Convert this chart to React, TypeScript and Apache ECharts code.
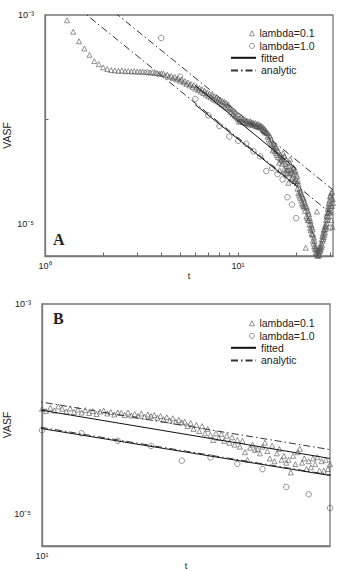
import React, { useEffect, useRef } from 'react';
import * as echarts from 'echarts';

const FONT = '"Liberation Sans", Arial, Helvetica, sans-serif';
const SERIF = '"Liberation Serif", "Times New Roman", serif';

// lambda = 0.1 : sampled every 0.1 starting at t = 1.3 ; VASF values in units of 1e-5
const T0 = 1.3;
const DT = 0.1;
const lam01Early = [89.1, 69.2, 56.2, 47.9, 41.7, 36.3, 33.9, 31.6];
const lam01Plateau = [
  30.5, 29.8, 29.6, 29.3, 29.5, 29.0, 29.2, 28.9, 29.1, 28.8,
  28.7, 28.9, 28.5, 28.6, 28.2, 28.4, 27.9, 28.0, 27.5, 27.6,
];
const lam01Mid = [
  27.6, 26.5, 26.9, 25.7, 26.2, 25.0, 25.6, 24.3, 24.9, 23.6,
  24.2, 22.8, 23.4, 22.0, 22.7, 21.3, 21.9, 20.6, 21.4, 19.8,
  20.7, 19.3, 20.0, 18.6, 19.5, 18.0, 18.9, 17.4, 18.2, 16.9,
  17.8, 16.4, 17.3, 15.9, 16.8, 15.5, 16.3, 15.0, 15.9, 14.6,
  15.5, 14.1, 15.1, 13.7, 14.8, 13.3, 14.4, 13.0, 14.0, 12.6,
  13.1, 11.9, 12.6, 11.3, 12.2, 10.9, 11.8, 10.5, 11.3, 10.1,
];
const lam01Late = [
  9.6, 10.3, 9.7, 10.6, 10.1, 9.5, 10.2, 9.4, 9.9, 9.3,
  9.8, 9.2, 9.6, 9.0, 9.5, 9.7, 9.1, 9.4, 8.9, 9.3,
  9.2, 8.8, 9.3, 8.7, 9.0, 8.6, 9.1, 8.5, 8.9, 8.6,
  8.8, 8.3, 8.6, 8.0, 8.4, 7.8, 8.2, 7.6, 7.9, 7.5,
  7.6, 6.9, 7.4, 6.5, 7.1, 6.2, 6.9, 5.9, 6.5, 5.7,
  5.1, 5.9, 5.3, 5.8, 5.0, 5.6, 4.8, 5.4, 4.6, 5.1,
  4.4, 5.0, 3.9, 3.3, 4.3, 4.6, 4.1, 4.2, 3.8, 4.4,
  4.8, 4.0, 3.4, 4.5, 3.2, 3.8, 4.2, 3.3, 3.6, 3.1,
  3.3, 2.5, 3.6, 3.0, 3.9, 4.2, 3.1, 3.4, 2.7, 3.2,
  2.8, 3.4, 3.0, 3.5, 2.6, 3.2, 2.6, 3.3, 2.7, 3.0,
];
const lam01Tail = [
  2.5, 2.9, 2.2, 2.6, 2.0, 2.4, 1.9, 2.2, 1.8, 2.05,
  2.1, 1.7, 1.95, 1.6, 1.85, 1.55, 1.8, 1.5, 1.75, 1.45,
  1.65, 1.35, 1.55, 0.6, 1.5, 1.2, 1.45, 1.15, 1.35, 1.1,
  1.3, 1.1, 1.25, 1.0, 1.15, 0.92, 1.08, 0.88, 1.0, 0.82,
  0.95, 0.8, 0.9, 0.7, 0.8, 0.66, 0.75, 0.62, 0.7, 0.58,
  0.6, 0.54, 0.62, 0.53, 0.58, 1.33, 0.51, 0.56, 0.5, 0.55,
  0.53, 0.58, 0.51, 0.55, 0.6, 0.56, 0.62, 0.58, 0.66, 0.61,
  0.72, 0.64, 0.78, 0.7, 0.82, 0.73, 0.88, 0.76, 0.9, 0.8,
  0.95, 0.84, 1.0, 0.9, 1.1, 0.96, 1.2, 1.02, 1.28, 1.12,
  1.4, 1.2, 1.5, 1.3, 1.6, 1.35, 1.7, 1.45, 1.85, 1.55,
  1.9, 1.3, 2.0, 1.1, 1.8, 1.5, 2.05, 0.95, 1.75, 1.6,
];

// lambda = 1.0 : integer times ; VASF in units of 1e-5
const lam10T = [4, 5, 6, 7, 8, 9, 10, 11, 12, 13, 14, 15, 16, 17, 18, 19, 20, 29, 30];
const lam10V = [60.3, 25.7, 15.8, 11.0, 8.7, 6.9, 6.3, 5.9, 5.0, 4.47, 3.24, 3.47, 3.02, 2.69, 1.82, 1.55, 1.15, 1.17, 0.93];

// straight lines in log-log (end points)
const fitted01 = [[6, 2.12e-4], [20, 3.4e-5]];
const fitted10 = [[6, 1.39e-4], [20, 2.34e-5]];
const analytic01 = [[2, 1.3e-3], [31, 2.14e-5]];
const analytic10 = [[1.5, 1.15e-3], [31, 1.23e-5]];

const xTicksA = [2, 3, 4, 5, 6, 7, 8, 9, 10, 20, 30];
const xLabelExps = [0, 1];
const yTicks = [1e-4];
const yLabelExps = [-3, -5];

const SCALE = 1e-5;
const SUP: Record<string, string> = { '-': '⁻', '0': '⁰', '1': '¹', '2': '²', '3': '³', '4': '⁴', '5': '⁵', '6': '⁶', '7': '⁷', '8': '⁸', '9': '⁹' };

export default function App() {
  const ref = useRef<HTMLDivElement>(null);
  useEffect(() => {
    if (!ref.current) return;
    const chart = echarts.init(ref.current, null, { renderer: 'svg' });

    const lam01 = [...lam01Early, ...lam01Plateau, ...lam01Mid, ...lam01Late, ...lam01Tail];
    const lam01Data = lam01.map((v, i) => [Math.round((T0 + i * DT) * 10) / 10, v * SCALE]);
    const lam10Data = lam10T.map((t, i) => [t, lam10V[i] * SCALE]);

    const mkFmt = (exps: number[]) => (v: number) => {
      const e = Math.log10(v);
      const r = Math.round(e);
      if (Math.abs(e - r) > 1e-6 || exps.indexOf(r) < 0) return '';
      return '10' + String(r).split('').map((c) => SUP[c] ?? c).join('');
    };
    const labelStyle = { fontSize: 9, color: '#222', fontFamily: FONT };
    const axisLine = { show: true, lineStyle: { color: '#777', width: 1.3 } };

    const mkX = (gi: number, min: number, max: number, ticks: number[] | null) => ({
      type: 'log', logBase: 10, gridIndex: gi, min, max,
      name: 't', nameLocation: 'middle', nameGap: 15,
      nameTextStyle: { fontSize: 9, color: '#222', fontFamily: FONT },
      axisLine,
      axisTick: ticks
        ? { show: true, inside: true, length: 3.5, customValues: ticks, lineStyle: { color: '#666', width: 1 } }
        : { show: false },
      axisLabel: { formatter: mkFmt(xLabelExps), margin: 5, showMinLabel: true, showMaxLabel: true, ...labelStyle },
      splitLine: { show: false },
    });
    const mkY = (gi: number, gap: number) => ({
      type: 'log', logBase: 10, gridIndex: gi, min: 5e-6, max: 1e-3,
      name: 'VASF', nameLocation: 'middle', nameGap: gap, nameMoveOverlap: false,
      nameTextStyle: { fontSize: 10.5, color: '#222', fontFamily: FONT },
      axisLine,
      axisTick: { show: true, inside: true, length: 3.5, customValues: yTicks, lineStyle: { color: '#666', width: 1 } },
      axisLabel: { formatter: mkFmt(yLabelExps), margin: 11, showMinLabel: true, showMaxLabel: true, ...labelStyle },
      splitLine: { show: false },
    });

    const markStyle = { color: 'rgba(0,0,0,0)', borderColor: '#555', borderWidth: 0.8 };
    const mkSeries = (gi: number) => [
      { name: 'fitted', type: 'line', xAxisIndex: gi, yAxisIndex: gi, data: fitted01, symbol: 'none', color: '#111', lineStyle: { color: '#111', width: 1 } },
      { name: 'fitted', type: 'line', xAxisIndex: gi, yAxisIndex: gi, data: fitted10, symbol: 'none', color: '#111', lineStyle: { color: '#111', width: 1 } },
      { name: 'analytic', type: 'line', xAxisIndex: gi, yAxisIndex: gi, data: analytic01, symbol: 'none', color: '#333', lineStyle: { color: '#333', width: 1, type: [7, 3, 1.5, 3] } },
      { name: 'analytic', type: 'line', xAxisIndex: gi, yAxisIndex: gi, data: analytic10, symbol: 'none', color: '#333', lineStyle: { color: '#333', width: 1, type: [7, 3, 1.5, 3] } },
      { name: 'lambda=0.1', type: 'scatter', xAxisIndex: gi, yAxisIndex: gi, data: lam01Data, symbol: 'triangle', symbolSize: 5, itemStyle: markStyle },
      { name: 'lambda=1.0', type: 'scatter', xAxisIndex: gi, yAxisIndex: gi, data: lam10Data, symbol: 'circle', symbolSize: 5.5, itemStyle: markStyle },
    ];

    const legendText = { fontSize: 10.5, lineHeight: 12.6, color: '#222', fontFamily: FONT };
    const mkLegends = (dy: number) => [
      {
        data: ['lambda=0.1', 'lambda=1.0'], orient: 'vertical', left: 249, top: 27 + dy,
        itemWidth: 5, itemHeight: 5, itemGap: 0, padding: 0, selectedMode: false, textStyle: legendText,
        itemStyle: { color: 'rgba(0,0,0,0)', borderColor: '#555', borderWidth: 0.8 },
      },
      {
        data: ['fitted', 'analytic'], orient: 'vertical', left: 230, top: 51.5 + dy,
        itemWidth: 25, itemHeight: 2, itemGap: 0, padding: 0, selectedMode: false, textStyle: legendText,
        itemStyle: { color: 'rgba(0,0,0,0)', borderColor: 'rgba(0,0,0,0)', borderWidth: 0 },
      },
    ];

    const gridBase = { show: true, borderColor: '#777', borderWidth: 1.3, containLabel: false, outerBoundsMode: 'none' };
    chart.setOption({
      animation: false,
      backgroundColor: '#fff',
      textStyle: { fontFamily: FONT },
      grid: [
        { ...gridBase, left: 45, top: 15, width: 288, height: 241 },
        { ...gridBase, left: 42, top: 304, width: 288, height: 242 },
      ],
      xAxis: [mkX(0, 1, 31, xTicksA), mkX(1, 10, 20, null)],
      yAxis: [mkY(0, 33), mkY(1, 30)],
      legend: [...mkLegends(0), ...mkLegends(290)],
      series: [...mkSeries(0), ...mkSeries(1)],
      graphic: [
        { type: 'text', left: 53, top: 231, style: { text: 'A', font: `bold 16px ${SERIF}`, fill: '#222' } },
        { type: 'text', left: 53, top: 310, style: { text: 'B', font: `bold 16px ${SERIF}`, fill: '#222' } },
      ],
    });
    return () => chart.dispose();
  }, []);
  return <div ref={ref} style={{ position: 'fixed', left: 0, top: 0, width: 339, height: 571 }} />;
}
